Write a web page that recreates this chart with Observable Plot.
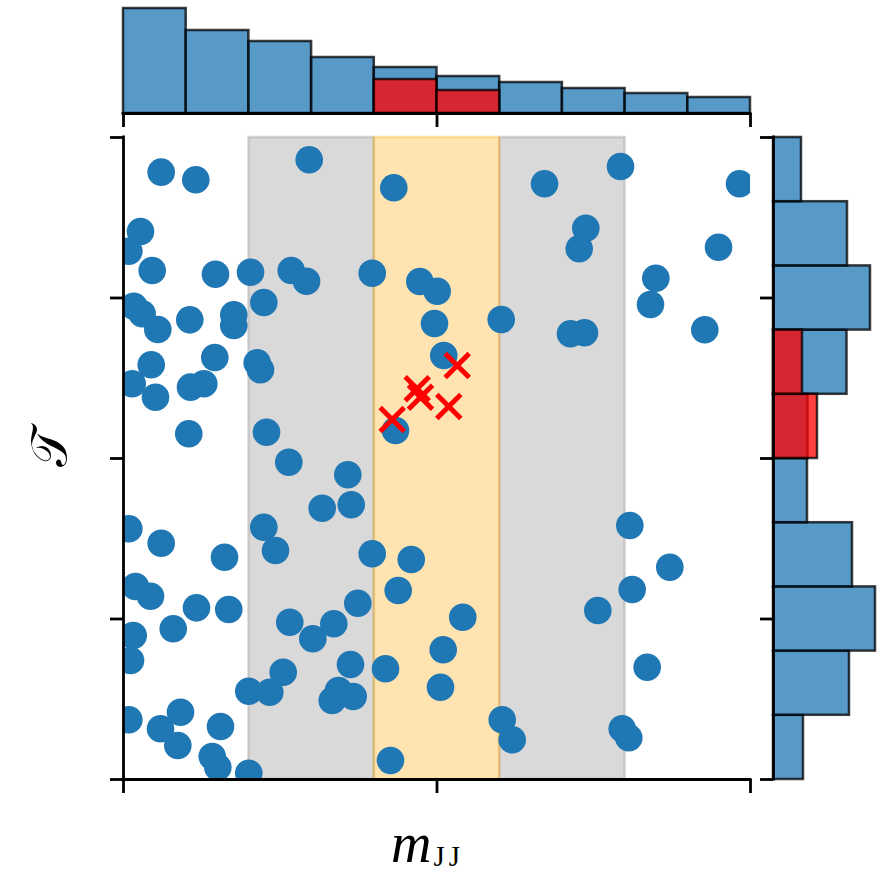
<!DOCTYPE html>
<html><head><meta charset="utf-8">
<script src="https://cdn.jsdelivr.net/npm/d3@7"></script>
<script src="https://cdn.jsdelivr.net/npm/@observablehq/plot@0.6"></script>
<style>
body{margin:0;background:#fff;}
#wrap{position:relative;width:889px;height:876px;background:#fff;}
#wrap svg{position:absolute;left:0;top:0;}
</style></head><body><div id="wrap"></div>
<script>
// ---- scatter: background events (blue) ----
const bgX = [0.0601,0.1153,0.2962,0.4311,0.0271,0.0085,0.0458,0.1467,0.2026,0.2675,
  0.2919,0.3967,0.4726,0.5003,0.0164,0.0298,0.0547,0.1057,0.1759,0.1759,
  0.2238,0.4960,0.5108,0.0442,0.1456,0.2132,0.2185,0.0139,0.1069,0.1281,
  0.0510,0.1041,0.2281,0.4338,0.6715,0.7927,0.9825,0.7373,0.7268,0.9490,
  0.8490,0.8405,0.6024,0.7129,0.7352,0.9271,0.2636,0.3577,0.3169,0.3632,
  0.0085,0.0601,0.2238,0.2424,0.1611,0.3967,0.4589,0.0191,0.0431,0.1164,
  0.1679,0.4381,0.3737,0.0155,0.0793,0.0112,0.2652,0.3354,0.3019,0.3620,
  0.4179,0.2547,0.5099,0.5056,0.1998,0.2333,0.3329,0.3429,0.3663,0.0085,
  0.0590,0.0909,0.0866,0.1547,0.1415,0.1504,0.1998,0.4258,0.8075,0.8713,
  0.8113,0.7565,0.5411,0.8352,0.6040,0.6199,0.7954,0.8059];
const bgY = [0.9460,0.9341,0.9653,0.9217,0.8536,0.8229,0.7928,0.7871,0.7902,0.7928,
  0.7762,0.7886,0.7757,0.7606,0.7372,0.7254,0.7009,0.7160,0.7238,0.7072,
  0.7430,0.7103,0.6604,0.6460,0.6573,0.6491,0.6382,0.6164,0.6111,0.6164,
  0.5955,0.5385,0.5410,0.5436,0.9279,0.9548,0.9279,0.8587,0.8266,0.8291,
  0.7808,0.7399,0.7165,0.6942,0.6958,0.7005,0.4942,0.4746,0.4226,0.4279,
  0.3905,0.3681,0.3930,0.3567,0.3463,0.3516,0.3427,0.3006,0.2855,0.2674,
  0.2648,0.2944,0.2746,0.2243,0.2347,0.1854,0.2450,0.2425,0.2192,0.1791,
  0.1724,0.1671,0.2020,0.1438,0.1375,0.1360,0.1231,0.1386,0.1293,0.0930,
  0.0790,0.1048,0.0530,0.0826,0.0358,0.0192,0.0098,0.0296,0.3956,0.3307,
  0.2960,0.2632,0.2528,0.1749,0.0930,0.0618,0.0790,0.0650];
// ---- scatter: signal events (red crosses) ----
const sigX = [0.4285,0.4684,0.4737,0.5188,0.5322];
const sigY = [0.5607,0.6086,0.5955,0.5810,0.6449];

// ---- shaded windows ----
const sidebandLo = [0.2, 0.6];
const sidebandHi = [0.4, 0.8];
const signalLo = [0.4];
const signalHi = [0.6];

// ---- marginal histograms ----
const binLo = [0.0,0.1,0.2,0.3,0.4,0.5,0.6,0.7,0.8,0.9];
const binHi = [0.1,0.2,0.3,0.4,0.5,0.6,0.7,0.8,0.9,1.0];
const topBlue = [2.10,1.66,1.44,1.12,0.92,0.74,0.62,0.50,0.40,0.32];
const topRedLo = [0.4,0.5];
const topRedHi = [0.5,0.6];
const topRed = [0.68,0.46];
const rightBlue = [0.60,1.52,2.04,1.58,0.68,0.69,1.47,1.94,1.48,0.56];
const rightRedLo = [0.5,0.6];
const rightRedHi = [0.6,0.7];
const rightRed = [0.88,0.58];

const xTicks = [0, 0.5, 1];
const yTicks = [0, 0.25, 0.5, 0.75, 1];

// build tables
const bg = bgX.map((x,i)=>({x, y:bgY[i]}));
const sig = sigX.map((x,i)=>({x, y:sigY[i]}));
const side = sidebandLo.map((a,i)=>({a, b:sidebandHi[i]}));
const sigWin = signalLo.map((a,i)=>({a, b:signalHi[i]}));
const topB = binLo.map((a,i)=>({a, b:binHi[i], v:topBlue[i]}));
const topR = topRedLo.map((a,i)=>({a, b:topRedHi[i], v:topRed[i]}));
const rightB = binLo.map((a,i)=>({a, b:binHi[i], v:rightBlue[i]}));
const rightR = rightRedLo.map((a,i)=>({a, b:rightRedHi[i], v:rightRed[i]}));

const W = 889, H = 876, LW = 2.8;
const STYLE = {background:"transparent", overflow:"visible"};
const BLUE = "#1f77b4";
const noLabel = () => "";

const wrap = document.getElementById("wrap");

// main scatter
const mainPlot = Plot.plot({
  width: W, height: H,
  marginLeft: 123, marginRight: 139, marginTop: 137, marginBottom: 97,
  style: STYLE,
  x: {domain: [0, 1]},
  y: {domain: [0, 1]},
  marks: [
    Plot.rect(side, {x1:"a", x2:"b", y1:0, y2:1, fill:"gray", fillOpacity:0.3, stroke:"gray", strokeOpacity:0.3, strokeWidth:2.5}),
    Plot.rect(sigWin, {x1:"a", x2:"b", y1:0, y2:1, fill:"orange", fillOpacity:0.3, stroke:"orange", strokeOpacity:0.3, strokeWidth:2.5}),
    Plot.dot(bg, {x:"x", y:"y", r:13.8, fill:BLUE, stroke:"none", clip:true}),
    Plot.dot(sig, {x:"x", y:"y", r:11, symbol:"times", stroke:"red", strokeWidth:5, clip:true}),
    Plot.axisX({ticks:xTicks, tickSize:14, tickFormat:noLabel, strokeWidth:LW, label:null}),
    Plot.axisY({ticks:yTicks, tickSize:13, tickFormat:noLabel, strokeWidth:LW, label:null}),
    Plot.ruleY([0], {strokeWidth:LW, strokeLinecap:"square"}),
    Plot.ruleX([0], {strokeWidth:LW, strokeLinecap:"square"})
  ]
});
wrap.appendChild(mainPlot);

// top marginal histogram
const topPlot = Plot.plot({
  width: W, height: H,
  marginLeft: 123, marginRight: 139, marginTop: 8, marginBottom: 763,
  style: STYLE,
  x: {domain: [0, 1]},
  y: {domain: [0, 2.1], axis: null},
  marks: [
    Plot.rectY(topB, {x1:"a", x2:"b", y:"v", fill:BLUE, fillOpacity:0.75, stroke:"black", strokeOpacity:0.75, strokeWidth:2.5}),
    Plot.rectY(topR, {x1:"a", x2:"b", y:"v", fill:"red", fillOpacity:0.75, stroke:"black", strokeOpacity:0.75, strokeWidth:2.5}),
    Plot.axisX({ticks:xTicks, tickSize:14, tickFormat:noLabel, strokeWidth:LW, label:null}),
    Plot.ruleY([0], {strokeWidth:LW, strokeLinecap:"square"})
  ]
});
wrap.appendChild(topPlot);

// right marginal histogram
const rightPlot = Plot.plot({
  width: W, height: H,
  marginLeft: 773, marginRight: 11, marginTop: 137, marginBottom: 97,
  style: STYLE,
  x: {domain: [0, 2.1], axis: null},
  y: {domain: [0, 1]},
  marks: [
    Plot.rectX(rightB, {y1:"a", y2:"b", x:"v", fill:BLUE, fillOpacity:0.75, stroke:"black", strokeOpacity:0.75, strokeWidth:2.5}),
    Plot.rectX(rightR, {y1:"a", y2:"b", x:"v", fill:"red", fillOpacity:0.75, stroke:"black", strokeOpacity:0.75, strokeWidth:2.5}),
    Plot.axisY({ticks:yTicks, tickSize:13, tickFormat:noLabel, strokeWidth:LW, label:null}),
    Plot.ruleX([0], {strokeWidth:LW, strokeLinecap:"square"})
  ]
});
wrap.appendChild(rightPlot);

// axis labels
const svg = d3.select(mainPlot);
const xl = svg.append("text")
  .attr("x", 391).attr("y", 862)
  .attr("text-anchor", "start")
  .attr("fill", "black");
xl.append("tspan").text("m")
  .attr("font-family", "'Liberation Serif', serif")
  .attr("font-style", "italic").attr("font-size", 56);
xl.append("tspan").text("JJ")
  .attr("font-family", "'Liberation Serif', serif")
  .attr("font-size", 29).attr("dy", 4).attr("dx", 2)
  .attr("letter-spacing", 4);

svg.append("text")
  .attr("transform", "translate(66,448) rotate(-90)")
  .attr("text-anchor", "middle")
  .attr("font-family", "'DejaVu Serif', 'DejaVu Sans', serif")
  .attr("font-size", 50)
  .attr("fill", "black")
  .text("𝒯");
</script>
</body></html>
